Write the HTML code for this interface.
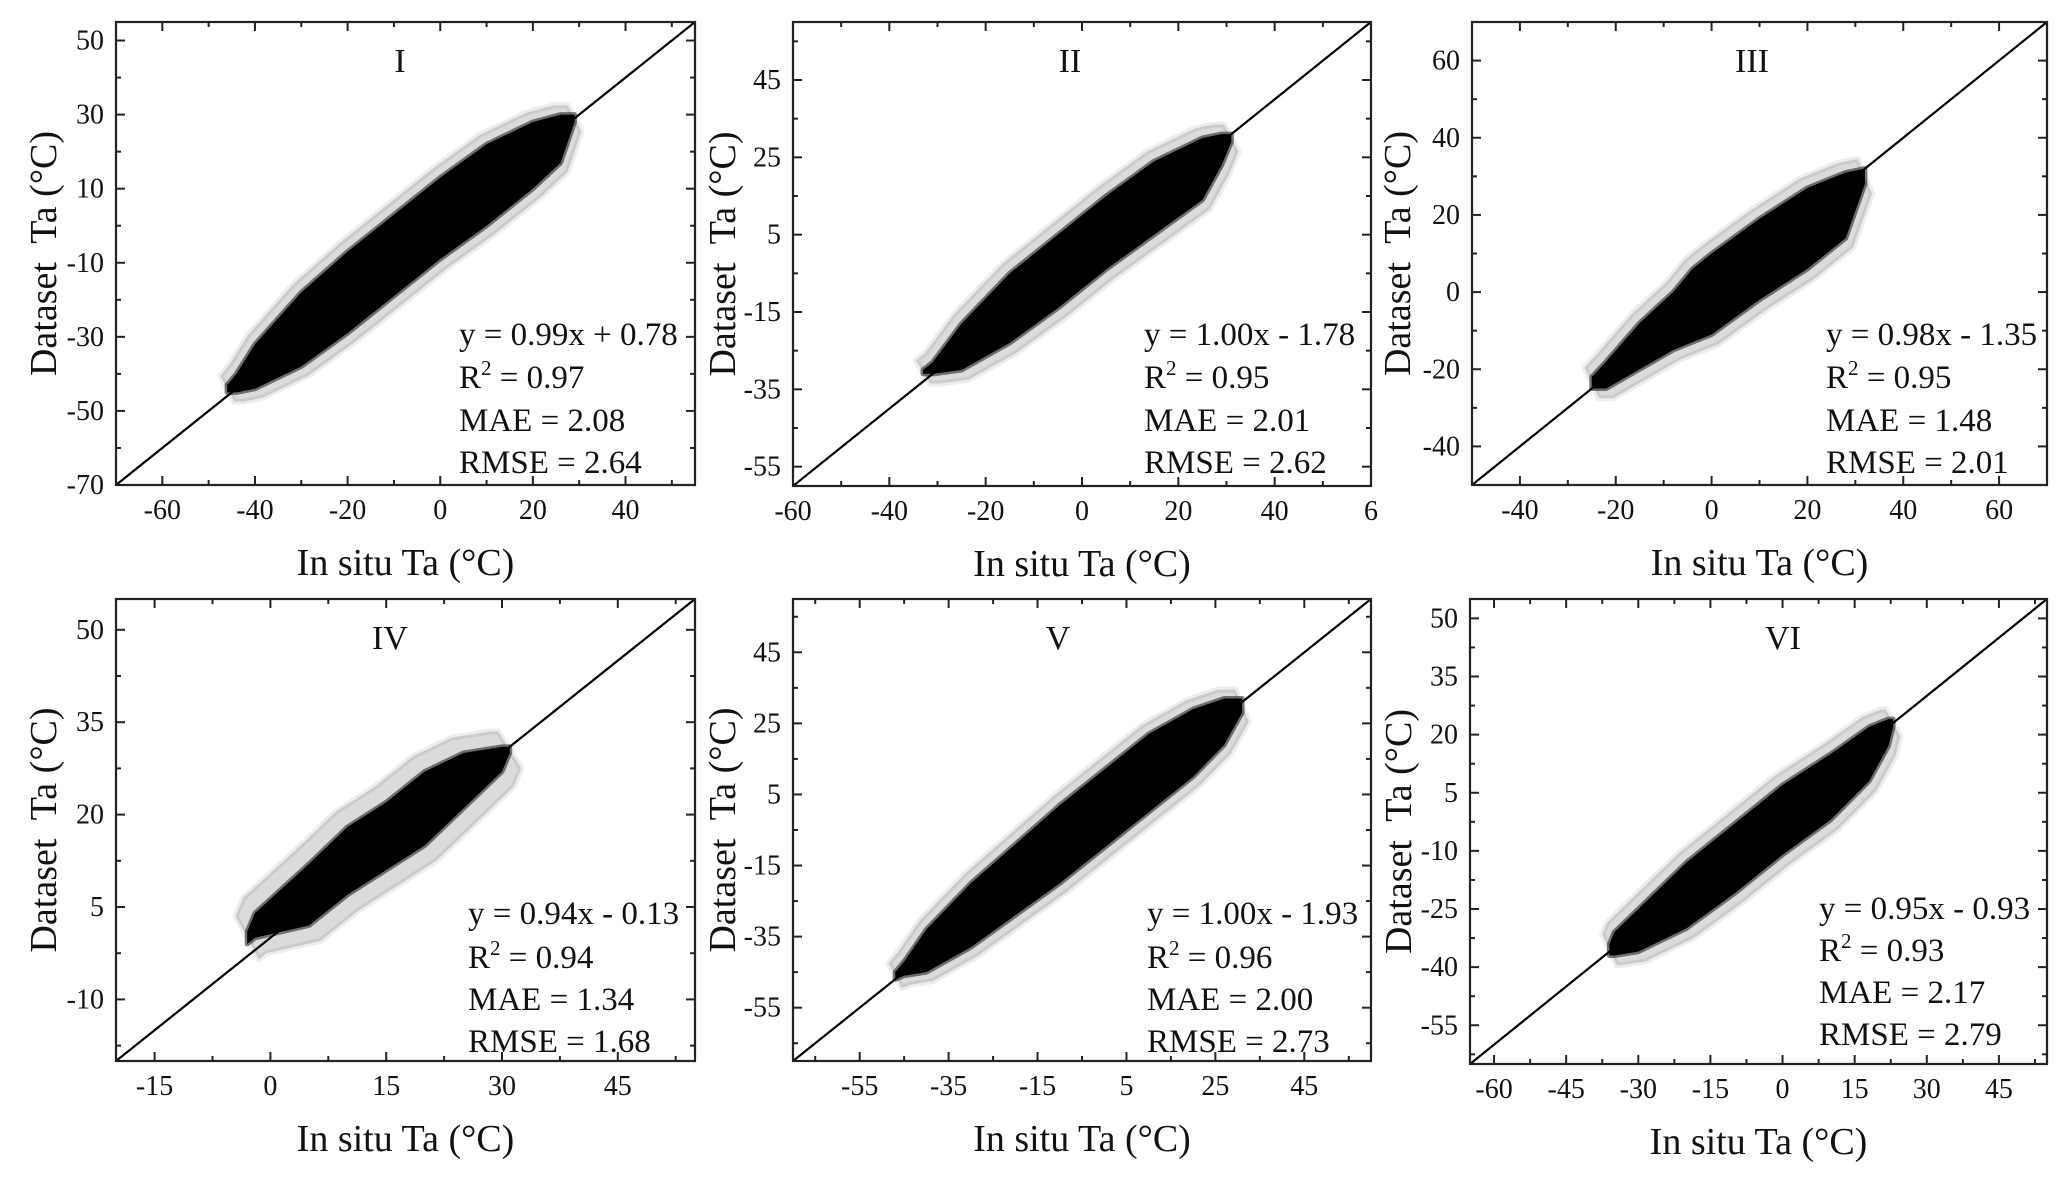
<!DOCTYPE html>
<html><head><meta charset="utf-8"><style>
html,body{margin:0;padding:0;background:#fff;}
svg{display:block;font-family:"Liberation Serif",serif;}
.pre{white-space:pre;}
</style></head>
<body>
<svg id="fig" width="2067" height="1180" viewBox="0 0 2067 1180"></svg>
<script>
// ---- data: dense-cloud envelopes (x, lower y, upper y) ----
const p1X  = [-46,-44,-40,-30,-20,-10,0,10,20,26,29];
const p1Lo = [-45,-45,-44,-38,-29,-19,-9,0,10,17,28];
const p1Hi = [-43,-40,-32,-18,-7,3,13,22,28,30,30];
const p2X  = [-33,-31,-25,-15,-5,5,15,25,29,31];
const p2Lo = [-31,-31,-30,-23,-14,-4,5,14,23,29];
const p2Hi = [-30,-28,-18,-5,5,15,24,30,31,31];
const p3X  = [-25,-22,-15,-8,-4,0,10,20,28,32];
const p3Lo = [-25,-25,-20,-15,-13,-11,-2,6,14,28];
const p3Hi = [-22,-18,-8,0,6,10,19,27,31,32];
const p4X  = [-3,-2,5,10,15,20,25,30,31];
const p4Lo = [-1,0,2,7,11,15,21,27,30];
const p4Hi = [1,4,12,18,22,27,30,31,31];
const p5X  = [-47,-45,-40,-30,-20,-10,0,10,20,27,31];
const p5Lo = [-47,-46,-45,-38,-29,-20,-10,0,10,19,28];
const p5Hi = [-45,-42,-33,-20,-9,2,12,22,29,32,32];
const p6X  = [-36,-35,-30,-20,-10,0,10,18,22,23];
const p6Lo = [-37,-37,-36,-30,-21,-11,-2,8,17,22];
const p6Hi = [-34,-31,-25,-13,-3,7,15,22,24,24];
// tick values
const p1Ticks = [-60,-40,-20,0,20,40];  const p1YTicks = [-70,-50,-30,-10,10,30,50];
const p2Ticks = [-60,-40,-20,0,20,40,60]; const p2YTicks = [-55,-35,-15,5,25,45];
const p3Ticks = [-40,-20,0,20,40,60];   const p3YTicks = [-40,-20,0,20,40,60];
const p4Ticks = [-15,0,15,30,45];       const p4YTicks = [-10,5,20,35,50];
const p5Ticks = [-55,-35,-15,5,25,45];  const p5YTicks = [-55,-35,-15,5,25,45];
const p6Ticks = [-60,-45,-30,-15,0,15,30,45]; const p6YTicks = [-55,-40,-25,-10,5,20,35,50];
// tick labels (panel II shows a clipped "6" for 60)
const p2TickLabels = ["-60","-40","-20","0","20","40","6"];
// statistics text
const p1Stats = ["y = 0.99x + 0.78","0.97","MAE = 2.08","RMSE = 2.64"];
const p2Stats = ["y = 1.00x - 1.78","0.95","MAE = 2.01","RMSE = 2.62"];
const p3Stats = ["y = 0.98x - 1.35","0.95","MAE = 1.48","RMSE = 2.01"];
const p4Stats = ["y = 0.94x - 0.13","0.94","MAE = 1.34","RMSE = 1.68"];
const p5Stats = ["y = 1.00x - 1.93","0.96","MAE = 2.00","RMSE = 2.73"];
const p6Stats = ["y = 0.95x - 0.93","0.93","MAE = 2.17","RMSE = 2.79"];

const NS = "http://www.w3.org/2000/svg";
const svg = document.getElementById('fig');
function mk(tag, attrs, parent){const e=document.createElementNS(NS,tag);for(const k in attrs)e.setAttribute(k,attrs[k]);(parent||svg).appendChild(e);return e;}

const panels = [
 {id:'I',   L:116, R:695, T:22,  B:485, x0:-70,x1:55, y0:-70,y1:55, xt:p1Ticks,yt:p1YTicks,xl:null, X:p1X,Lo:p1Lo,Hi:p1Hi, st:p1Stats, tx:400, sx:459, sy:[333,376,419,461], ytx:43},
 {id:'II',  L:793, R:1371,T:22,  B:486, x0:-60,x1:60, y0:-60,y1:60, xt:p2Ticks,yt:p2YTicks,xl:p2TickLabels, X:p2X,Lo:p2Lo,Hi:p2Hi, st:p2Stats, tx:1070, sx:1144, sy:[333,376,419,461], ytx:722},
 {id:'III', L:1472,R:2047,T:22,  B:485, x0:-50,x1:70, y0:-50,y1:70, xt:p3Ticks,yt:p3YTicks,xl:null, X:p3X,Lo:p3Lo,Hi:p3Hi, st:p3Stats, tx:1752, sx:1826, sy:[333,376,419,461], ytx:1397},
 {id:'IV',  L:116, R:695, T:599, B:1061,x0:-20,x1:55, y0:-20,y1:55, xt:p4Ticks,yt:p4YTicks,xl:null, X:p4X,Lo:p4Lo,Hi:p4Hi, st:p4Stats, tx:390, sx:468, sy:[912,956,998,1040], ytx:43},
 {id:'V',   L:793, R:1371,T:599, B:1061,x0:-70,x1:60, y0:-70,y1:60, xt:p5Ticks,yt:p5YTicks,xl:null, X:p5X,Lo:p5Lo,Hi:p5Hi, st:p5Stats, tx:1058, sx:1147, sy:[912,956,998,1040], ytx:722},
 {id:'VI',  L:1470,R:2047,T:599, B:1064,x0:-65,x1:55, y0:-65,y1:55, xt:p6Ticks,yt:p6YTicks,xl:null, X:p6X,Lo:p6Lo,Hi:p6Hi, st:p6Stats, tx:1783, sx:1819, sy:[907,949,991,1033], ytx:1398}
];

panels.forEach((p,i)=>{
  const g = mk('g',{});
  
  
  const sx = v => p.L + (v-p.x0)/(p.x1-p.x0)*(p.R-p.L);
  const sy = v => p.B - (v-p.y0)/(p.y1-p.y0)*(p.B-p.T);
  const cid='clip'+i;
  const cp=mk('clipPath',{id:cid},g); mk('rect',{x:p.L,y:p.T,width:p.R-p.L,height:p.B-p.T},cp);
  let up=[],dn=[];
  for(let k=0;k<p.X.length;k++){up.push(sx(p.X[k]-1.5)+','+sy(p.Hi[k]+2.5));dn.unshift(sx(p.X[k]+1.5)+','+sy(p.Lo[k]-2.5));}
  const halo=mk('polygon',{points:up.concat(dn).join(' '),fill:'#000','fill-opacity':0.14,stroke:'#000','stroke-opacity':0.07,'stroke-width':6,'stroke-linejoin':'round','clip-path':'url(#'+cid+')'},g);
  
  
  up=[];dn=[];
  for(let k=0;k<p.X.length;k++){up.push(sx(p.X[k])+','+sy(p.Hi[k]));dn.unshift(sx(p.X[k])+','+sy(p.Lo[k]));}
  const core=mk('polygon',{points:up.concat(dn).join(' '),fill:'#000',stroke:'#000','stroke-opacity':0.5,'stroke-width':5,'stroke-linejoin':'round','clip-path':'url(#'+cid+')'},g);
  
  
  const lo=Math.max(p.x0,p.y0), hi=Math.min(p.x1,p.y1);
  const ln=mk('line',{x1:sx(lo),y1:sy(lo),x2:sx(hi),y2:sy(hi),stroke:'#000','stroke-width':2.2,'clip-path':'url(#'+cid+')'},g);
  
  
  const fr=mk('rect',{x:p.L,y:p.T,width:p.R-p.L,height:p.B-p.T,fill:'none',stroke:'#222','stroke-width':2.2},g);
  
  
  const stepX=p.xt[1]-p.xt[0], stepY=p.yt[1]-p.yt[0];
  for(let v=p.xt[0]-stepX;v<=p.x1+1e-6;v+=stepX/2){
    if(v<p.x0-1e-6)continue;
    const major=Math.abs(((v-p.xt[0])/stepX)-Math.round((v-p.xt[0])/stepX))<1e-6;
    const len=major?9:5;
    mk('line',{x1:sx(v),y1:p.B,x2:sx(v),y2:p.B-len,stroke:'#222','stroke-width':2},g);
    mk('line',{x1:sx(v),y1:p.T,x2:sx(v),y2:p.T+len,stroke:'#222','stroke-width':2},g);
  }
  for(let v=p.yt[0]-stepY;v<=p.y1+1e-6;v+=stepY/2){
    if(v<p.y0-1e-6)continue;
    const major=Math.abs(((v-p.yt[0])/stepY)-Math.round((v-p.yt[0])/stepY))<1e-6;
    const len=major?9:5;
    mk('line',{x1:p.L,y1:sy(v),x2:p.L+len,y2:sy(v),stroke:'#222','stroke-width':2},g);
    mk('line',{x1:p.R,y1:sy(v),x2:p.R-len,y2:sy(v),stroke:'#222','stroke-width':2},g);
  }
  p.xt.forEach((v,k)=>{
    const t=mk('text',{x:sx(v),y:p.B+34,'font-size':28,'text-anchor':'middle',fill:'#111'},g);
    t.textContent=p.xl?p.xl[k]:String(v);
    
    
  });
  p.yt.forEach(v=>{
    const t=mk('text',{x:p.L-12,y:sy(v)+9,'font-size':28,'text-anchor':'end',fill:'#111'},g);
    t.textContent=String(v);
    
    
  });
  const ti=mk('text',{x:p.tx,y:p.T+50,'font-size':34,'text-anchor':'middle',fill:'#111'},g);
  ti.textContent=p.id;
  
  
  const xt=mk('text',{x:(p.L+p.R)/2,y:p.B+90,'font-size':38,'text-anchor':'middle',fill:'#111'},g);
  xt.textContent='In situ Ta (°C)';
  
  
  const cy=(p.T+p.B)/2;
  const yt=mk('text',{x:p.ytx+13,y:cy,'font-size':38,'text-anchor':'middle',fill:'#111','class':'pre',transform:'rotate(-90 '+(p.ytx+13)+' '+cy+')'},g);
  yt.textContent='Dataset  Ta (°C)';
  
  
  p.st.forEach((s,k)=>{
    const t=mk('text',{x:p.sx,y:p.sy[k]+12,'font-size':33,fill:'#111'},g);
    if(k===1){
      t.textContent='R';
      const sup=mk('tspan',{'font-size':21,dy:-13},t); sup.textContent='2';
      const rest=mk('tspan',{dy:13},t); rest.textContent=' = '+s;
    } else t.textContent=s;
    
    
  });
});
</script>
</body></html>
